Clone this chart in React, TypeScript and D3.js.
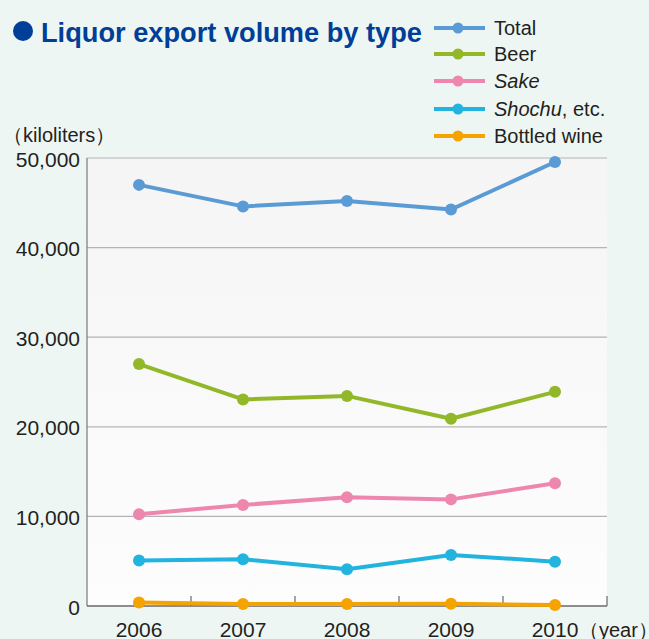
import React from "react";
import * as d3 from "d3";

const years = ["2006", "2007", "2008", "2009", "2010"];
const seriesNames = ["Total", "Beer", "Sake", "Shochu", "Bottled wine"];
const total = [47000, 44600, 45200, 44250, 49550];
const beer = [27000, 23050, 23450, 20900, 23900];
const sake = [10250, 11280, 12130, 11900, 13700];
const shochu = [5080, 5230, 4100, 5700, 4950];
const wine = [380, 220, 220, 250, 110];
const yTicks = [0, 10000, 20000, 30000, 40000, 50000];
const colors = ["#5b9bd5", "#92b82a", "#ee87ae", "#22b4de", "#f5a300"];

const W = 649, H = 639;
const left = 87, right = 607, top = 158, bottom = 606;

export default function App() {
  const x = d3.scaleBand().domain(years).range([left, right]);
  const y = d3.scaleLinear().domain([0, 50000]).range([bottom, top]);
  const all = [total, beer, sake, shochu, wine];
  const line = d3.line<number>().x((_, i) => x(years[i])! + x.bandwidth() / 2).y((d) => y(d));
  const fmt = d3.format(",");
  const boundaries = years.map((yr) => x(yr)! + x.bandwidth());
  const legendY = [28, 54, 81, 109, 136];
  return (
    <svg width={W} height={H} style={{ position: "absolute", left: 0, top: 0 }} fontFamily="'Liberation Sans', Arial, sans-serif">
      <defs>
        <linearGradient id="plotbg" x1="0" y1="0" x2="0" y2="1">
          <stop offset="0" stopColor="#f5f5f5" />
          <stop offset="1" stopColor="#fdfdfd" />
        </linearGradient>
      </defs>
      <rect x={0} y={0} width={W} height={H} fill="#eef6f3" />
      <rect x={left} y={top} width={right - left} height={bottom - top} fill="url(#plotbg)" />
      {yTicks.filter((t) => t > 0).map((t) => (
        <line key={t} x1={left} x2={right} y1={y(t)} y2={y(t)} stroke="#b4b4b4" strokeWidth={1.2} />
      ))}
      <line x1={left} x2={left} y1={top} y2={bottom} stroke="#7a7a7a" strokeWidth={1.2} />
      <line x1={left} x2={right} y1={bottom} y2={bottom} stroke="#6a6a6a" strokeWidth={1.4} />
      {boundaries.map((b, i) => (
        <line key={i} x1={b} x2={b} y1={bottom - 10} y2={bottom} stroke="#6a6a6a" strokeWidth={1.2} />
      ))}
      {yTicks.map((t) => (
        <text key={t} x={80} y={y(t) + 8.5} textAnchor="end" fontSize={21} fill="#231f20">{fmt(t)}</text>
      ))}
      {years.map((yr) => (
        <text key={yr} x={x(yr)! + x.bandwidth() / 2} y={637} textAnchor="middle" fontSize={21} fill="#231f20">{yr}</text>
      ))}
      <text x={579} y={637} fontSize={20} fill="#231f20">（year）</text>
      <text x={3} y={142} fontSize={20} fill="#231f20">（kiloliters）</text>
      {all.map((s, k) => (
        <g key={k}>
          <path d={line(s)!} fill="none" stroke={colors[k]} strokeWidth={4} strokeLinejoin="round" />
          {s.map((v, i) => (
            <circle key={i} cx={x(years[i])! + x.bandwidth() / 2} cy={y(v)} r={6} fill={colors[k]} />
          ))}
        </g>
      ))}
      <circle cx={23} cy={31} r={10} fill="#003f98" />
      <text x={41} y={42} fontSize={28} fontWeight="bold" fill="#003f98" textLength={381} lengthAdjust="spacingAndGlyphs">Liquor export volume by type</text>
      {seriesNames.map((n, k) => (
        <g key={n}>
          <line x1={434} x2={485} y1={legendY[k]} y2={legendY[k]} stroke={colors[k]} strokeWidth={4} />
          <circle cx={458} cy={legendY[k]} r={5.5} fill={colors[k]} />
          <text x={494} y={legendY[k] + 7} fontSize={20} fill="#231f20">
            {n === "Sake" ? <tspan fontStyle="italic">Sake</tspan> : n === "Shochu" ? (
              <><tspan fontStyle="italic">Shochu</tspan>, etc.</>
            ) : n}
          </text>
        </g>
      ))}
    </svg>
  );
}
